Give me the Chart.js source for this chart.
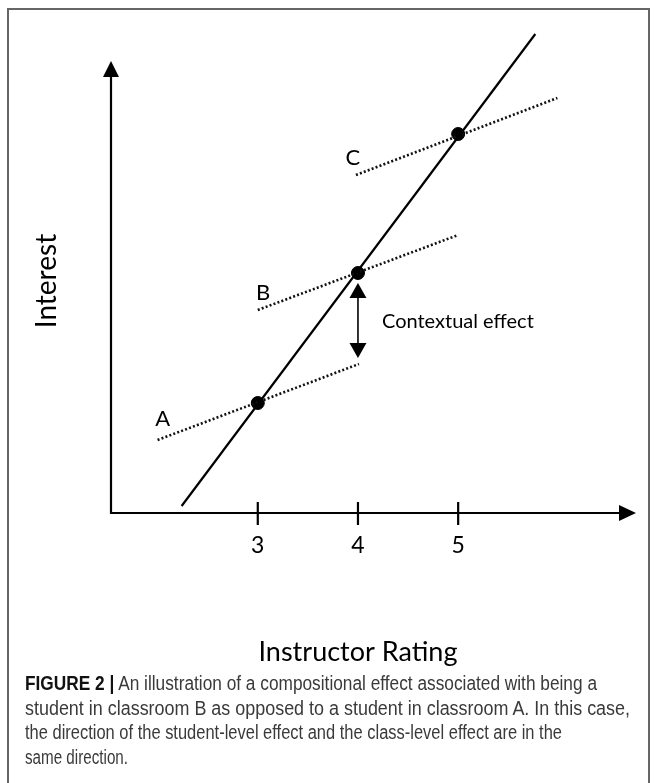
<!DOCTYPE html>
<html>
<head>
<meta charset="utf-8">
<script src="https://cdn.jsdelivr.net/npm/chart.js@4.4.1/dist/chart.umd.min.js"></script>
<style>
  html, body { margin: 0; padding: 0; background: #fff; }
  body { width: 657px; height: 783px; position: relative; overflow: hidden; }
  #frame { position: absolute; left: 7px; top: 8px; width: 643px; height: 800px;
           border: 2px solid #666; box-sizing: border-box; }
  #wrap { position: absolute; left: 0; top: 0; width: 657px; height: 783px; }
  #caption { position: absolute; left: 25px; top: 671px;
             font-family: "Liberation Sans Narrow", "Liberation Sans", Arial, sans-serif;
             font-size: 19.5px; line-height: 24.5px; color: #3a3a3a; }
  #caption div { white-space: nowrap; width: max-content; transform-origin: 0 0; }
  #caption b { color: #111; }
</style>
</head>
<body>
<div id="frame"></div>
<div id="wrap"><canvas id="c" width="657" height="783"></canvas></div>
<div id="caption">
  <div><b>FIGURE 2 |</b> An illustration of a compositional effect associated with being a</div>
  <div>student in classroom B as opposed to a student in classroom A. In this case,</div>
  <div>the direction of the student-level effect and the class-level effect are in the</div>
  <div>same direction.</div>
</div>
<script>
// ---- data ----
const xTitle = 'Instructor Rating';
const yTitle = 'Interest';
const tickValues = [3, 4, 5];
const tickLabels = ['3', '4', '5'];
// overall (solid) line
const overallX = [2.24, 5.77];
const overallY = [0.07, 4.79];
// class-level dotted lines
const classNames = ['A', 'B', 'C'];
const classLineX1 = [2.00, 3.00, 3.98];
const classLineY1 = [0.73, 2.03, 3.38];
const classLineX2 = [4.01, 5.00, 5.99];
const classLineY2 = [1.49, 2.78, 4.15];
// class means (dots)
const meanX = [3, 4, 5];
const meanY = [1.10, 2.40, 3.79];
const contextualLabel = 'Contextual effect';
// axis ranges
const xMin = 1.535, xMax = 6.775, yMin = 0, yMax = 4.79, yArrowTop = 4.52;

const FONT = 'Lato, "Open Sans", sans-serif';

// caption: condense each line to the reference line width
(function () {
  const targets = [572, 605, 537, 103];
  document.querySelectorAll('#caption div').forEach((d, i) => {
    const w = d.getBoundingClientRect().width;
    d.style.transform = 'scaleX(' + (targets[i] / w) + ')';
  });
})();

const datasets = [];
datasets.push({
  label: 'overall', type: 'line',
  data: overallX.map((x, i) => ({ x, y: overallY[i] })),
  borderColor: '#000', borderWidth: 2.2, pointRadius: 0, fill: false
});
classNames.forEach((n, i) => {
  datasets.push({
    label: 'class ' + n, type: 'line',
    data: [{ x: classLineX1[i], y: classLineY1[i] }, { x: classLineX2[i], y: classLineY2[i] }],
    borderColor: '#111', borderWidth: 2.6, borderDash: [2, 2.2], borderCapStyle: 'butt',
    pointRadius: 0, fill: false
  });
});
datasets.push({
  label: 'means', type: 'scatter',
  data: meanX.map((x, i) => ({ x, y: meanY[i] })),
  backgroundColor: '#000', borderColor: '#000', pointRadius: 6.5, pointHoverRadius: 6.5
});

function arrowHead(ctx, tipX, tipY, dirX, dirY, len, half) {
  const bx = tipX - dirX * len, by = tipY - dirY * len;
  const px = -dirY, py = dirX;
  ctx.beginPath();
  ctx.moveTo(tipX, tipY);
  ctx.lineTo(bx + px * half, by + py * half);
  ctx.lineTo(bx - px * half, by - py * half);
  ctx.closePath();
  ctx.fill();
}

const decor = {
  id: 'decor',
  beforeDatasetsDraw(chart) {
    const { ctx, scales: { x, y } } = chart;
    const x0 = x.getPixelForValue(xMin), y0 = y.getPixelForValue(yMin);
    const xEnd = x.getPixelForValue(xMax), yTop = y.getPixelForValue(yArrowTop);
    ctx.save();
    ctx.strokeStyle = '#000'; ctx.fillStyle = '#000'; ctx.lineWidth = 2.2;
    // axes
    ctx.beginPath();
    ctx.moveTo(x0, yTop + 12); ctx.lineTo(x0, y0); ctx.lineTo(xEnd - 12, y0);
    ctx.stroke();
    arrowHead(ctx, x0, yTop, 0, -1, 16, 8);
    arrowHead(ctx, xEnd, y0, 1, 0, 17, 8);
    // ticks
    tickValues.forEach((v, i) => {
      const px = x.getPixelForValue(v);
      ctx.beginPath(); ctx.moveTo(px, y0 - 11); ctx.lineTo(px, y0 + 12); ctx.stroke();
      ctx.font = '23px ' + FONT;
      ctx.textAlign = 'center'; ctx.textBaseline = 'middle';
      ctx.fillText(tickLabels[i], px, y0 + 33);
    });
    // axis titles
    ctx.font = '27px ' + FONT;
    ctx.textAlign = 'center'; ctx.textBaseline = 'middle';
    ctx.fillText(xTitle, x.getPixelForValue(4), y0 + 139);
    ctx.save();
    ctx.font = '28px ' + FONT;
    ctx.translate(x0 - 64, y.getPixelForValue(2.32));
    ctx.rotate(-Math.PI / 2);
    ctx.fillText(yTitle, 0, 0);
    ctx.restore();
    // class letters at the left end of each dotted line
    const offs = [[5, -21], [5.4, -17.5], [-3, -17]];
    ctx.font = '22px ' + FONT;
    classNames.forEach((n, i) => {
      const px = x.getPixelForValue(classLineX1[i]) + offs[i][0];
      const py = y.getPixelForValue(classLineY1[i]) + offs[i][1];
      ctx.fillText(n, px, py);
    });
    // contextual effect double arrow between A line end and B mean
    const ax = x.getPixelForValue(meanX[1]);
    const topTip = y.getPixelForValue(meanY[1]) + 10;
    const botTip = y.getPixelForValue(classLineY2[0]) - 6;
    ctx.lineWidth = 1.6;
    ctx.beginPath(); ctx.moveTo(ax, topTip + 10); ctx.lineTo(ax, botTip - 10); ctx.stroke();
    arrowHead(ctx, ax, topTip, 0, -1, 15, 8.5);
    arrowHead(ctx, ax, botTip, 0, 1, 15, 8.5);
    ctx.font = '20px ' + FONT;
    ctx.textAlign = 'left';
    ctx.fillText(contextualLabel, ax + 24, (topTip + botTip) / 2 + 1);
    ctx.restore();
  }
};

new Chart(document.getElementById('c'), {
  type: 'line',
  data: { datasets },
  options: {
    responsive: false, animation: false,
    layout: { padding: { left: 111, right: 21, top: 34, bottom: 270 } },
    plugins: { legend: { display: false }, tooltip: { enabled: false } },
    scales: {
      x: { type: 'linear', min: xMin, max: xMax, display: false },
      y: { type: 'linear', min: yMin, max: yMax, display: false }
    },
    elements: { line: { tension: 0 } },
    clip: false
  },
  plugins: [decor]
});
</script>
</body>
</html>
